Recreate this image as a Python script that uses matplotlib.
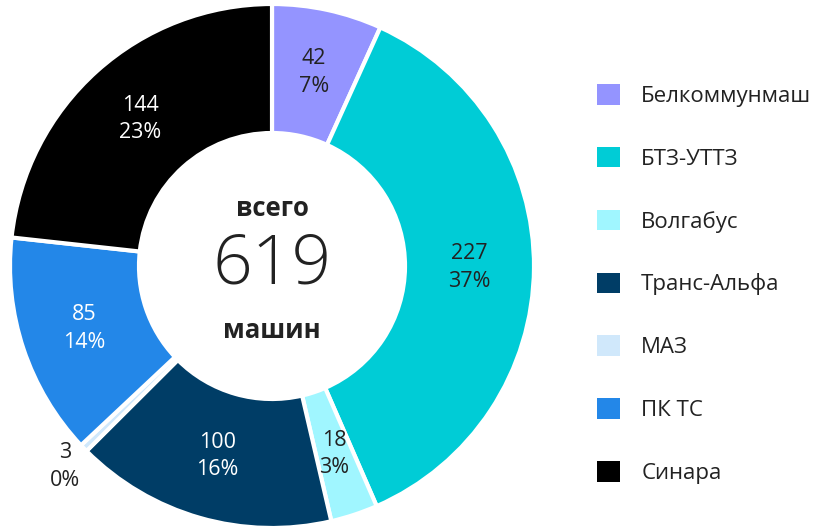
import numpy as np
import matplotlib.pyplot as plt
import matplotlib as mpl
from matplotlib.patches import Patch

mpl.rc('font', family=['Open Sans', 'DejaVu Sans'])

labels = ['Белкоммунмаш', 'БТЗ-УТТЗ', 'Волгабус', 'Транс-Альфа', 'МАЗ', 'ПК ТС', 'Синара']
values = [42, 227, 18, 100, 3, 85, 144]
colors = ['#9494ff', '#00ccd6', '#a0f6ff', '#003d66', '#d0e8fb', '#2387e8', '#000000']
text_colors = ['#222222', '#222222', '#222222', 'white', '#222222', 'white', 'white']

total = sum(values)
dark = '#222222'

fig = plt.figure(figsize=(8.18, 5.30), dpi=100)
ax = fig.add_axes([10 / 818, 2 / 530, 524 / 818, 524 / 530])

wedges, _ = ax.pie(values, colors=colors, startangle=90, counterclock=False, radius=1,
                   wedgeprops=dict(width=129 / 262, edgecolor='white', linewidth=3))
ax.set_xlim(-1, 1)
ax.set_ylim(-1, 1)
ax.set_aspect('equal')
ax.axis('off')

for i, w in enumerate(wedges):
    mid = np.deg2rad((w.theta1 + w.theta2) / 2)
    pct = round(values[i] / total * 100)
    r = 0.755 if values[i] > 5 else 1.1
    ax.text(r * np.cos(mid), r * np.sin(mid), f'{values[i]}\n{pct}%', ha='center', va='center',
            fontsize=15.5, color=text_colors[i], linespacing=1.4)

ax.text(0, 0.22, 'всего', ha='center', va='center', fontsize=18.5, fontweight='bold', color=dark)
ax.text(0, 0.0, str(total), ha='center', va='center', fontsize=50, fontweight='light', color=dark)
ax.text(0, -0.245, 'машин', ha='center', va='center', fontsize=18.5, fontweight='bold', color=dark)

handles = [Patch(facecolor=c, edgecolor='none') for c in colors]
fig.legend(handles, labels, loc='center left', bbox_to_anchor=(597 / 818, 0.464), frameon=False,
           fontsize=16, labelspacing=1.8, handlelength=1.04, handleheight=1.04, handletextpad=0.95,
           borderpad=0, borderaxespad=0, labelcolor=dark)

fig.savefig('out.png', dpi=100)
